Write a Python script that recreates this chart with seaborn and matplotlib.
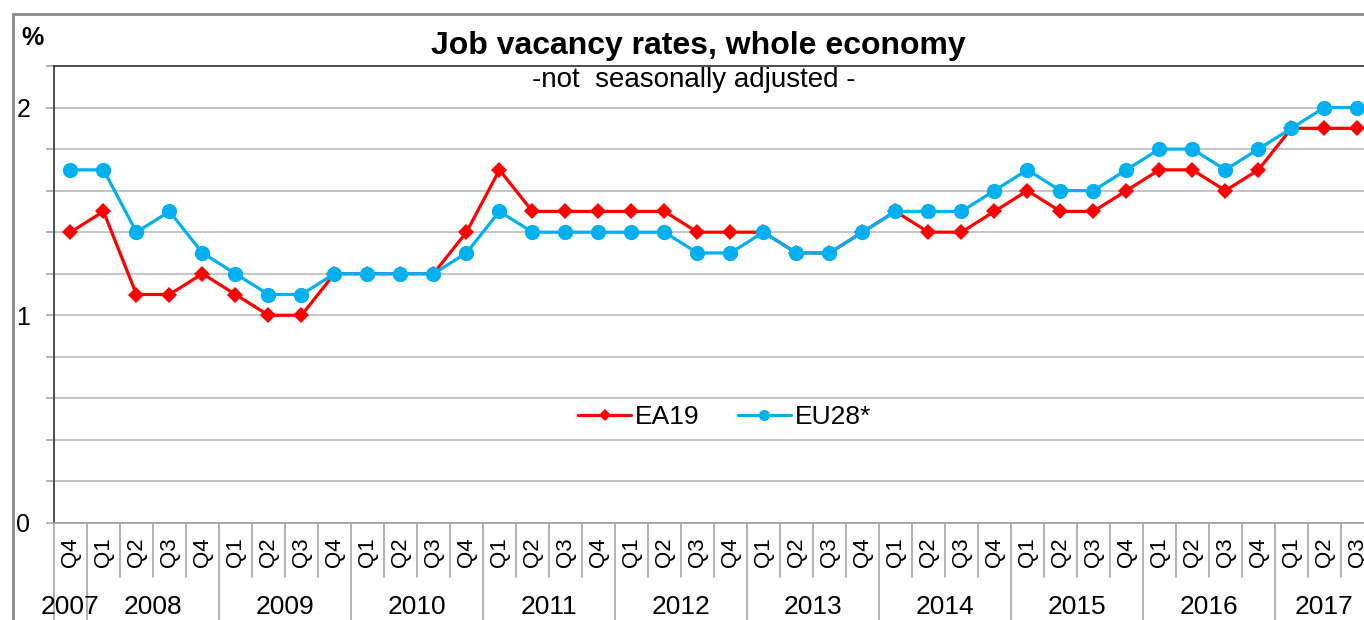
import numpy as np
import pandas as pd
import seaborn as sns
import matplotlib.pyplot as plt
from matplotlib.lines import Line2D

sns.set_style("white")
plt.rcParams["font.family"] = ["Liberation Sans", "DejaVu Sans"]
plt.rcParams["text.color"] = "black"
plt.rcParams["xtick.color"] = "black"
plt.rcParams["ytick.color"] = "black"

RED = "#FF0000"
BLUE = "#00B0F0"

QUARTERS = ["Q4"] + ["Q1", "Q2", "Q3", "Q4"] * 9 + ["Q1", "Q2", "Q3"]
YEARS = ["2007", "2008", "2009", "2010", "2011", "2012",
         "2013", "2014", "2015", "2016", "2017"]
YEAR_COUNTS = [1, 4, 4, 4, 4, 4, 4, 4, 4, 4, 3]

EA19 = [1.4,
        1.5, 1.1, 1.1, 1.2,
        1.1, 1.0, 1.0, 1.2,
        1.2, 1.2, 1.2, 1.4,
        1.7, 1.5, 1.5, 1.5,
        1.5, 1.5, 1.4, 1.4,
        1.4, 1.3, 1.3, 1.4,
        1.5, 1.4, 1.4, 1.5,
        1.6, 1.5, 1.5, 1.6,
        1.7, 1.7, 1.6, 1.7,
        1.9, 1.9, 1.9]
EU28 = [1.7,
        1.7, 1.4, 1.5, 1.3,
        1.2, 1.1, 1.1, 1.2,
        1.2, 1.2, 1.2, 1.3,
        1.5, 1.4, 1.4, 1.4,
        1.4, 1.4, 1.3, 1.3,
        1.4, 1.3, 1.3, 1.4,
        1.5, 1.5, 1.5, 1.6,
        1.7, 1.6, 1.6, 1.7,
        1.8, 1.8, 1.7, 1.8,
        1.9, 2.0, 2.0]

W, H = 1364, 620


def px_x(x):
    return x / W


def px_y(y):
    return 1 - y / H


def draw_series(ax, df):
    # EU28 is drawn last in the source, so it sits on top of EA19
    sns.lineplot(data=df, x="idx", y="EA19", ax=ax, color=RED, lw=2.3,
                 marker="D", markersize=8, markeredgewidth=0, legend=False)
    sns.lineplot(data=df, x="idx", y="EU28", ax=ax, color=BLUE, lw=2.3,
                 marker="o", markersize=11, markeredgewidth=0, legend=False)
    handles = [
        Line2D([0], [0], color=RED, lw=2.3, marker="D", ms=6, mew=0, label="EA19"),
        Line2D([0], [0], color=BLUE, lw=2.3, marker="o", ms=8, mew=0, label="EU28*"),
    ]
    ax.legend(handles=handles, ncol=2, frameon=False, loc="center",
              bbox_to_anchor=(0.512, 0.231), fontsize=19, handlelength=2.0,
              handletextpad=0.15, columnspacing=1.45)


def draw_xaxis(ax, n):
    tr = ax.get_xaxis_transform()
    ax_h = 523 - 66
    q_bottom = -(577 - 523) / ax_h
    y_bottom = -(625 - 523) / ax_h
    ax.set_xticks(range(n))
    ax.set_xticklabels(QUARTERS, rotation=90, fontsize=16)
    ax.tick_params(axis="x", length=0, pad=10)
    year_edges = np.cumsum(YEAR_COUNTS) - 0.5
    for i in range(n - 1):
        b = i + 0.5
        bottom = y_bottom if b in year_edges else q_bottom
        ax.plot([b, b], [0, bottom], transform=tr, color="#a6a6a6",
                lw=1.2, clip_on=False)
    ax.plot([-0.5, -0.5], [0, y_bottom], transform=tr, color="#a6a6a6",
            lw=1.2, clip_on=False)
    start = -0.5
    for year, cnt in zip(YEARS, YEAR_COUNTS):
        ax.text(start + cnt / 2, -(607 - 523) / ax_h, year, transform=tr,
                ha="center", va="center", fontsize=19)
        start += cnt


if __name__ == "__main__":
    n = len(QUARTERS)
    df = pd.DataFrame({"idx": np.arange(n), "EA19": EA19, "EU28": EU28})

    fig = plt.figure(figsize=(W / 100, H / 100), dpi=100)
    ax = fig.add_axes([px_x(54), px_y(523), px_x(1364 - 54), (523 - 66) / H])

    draw_series(ax, df)

    ax.set_xlim(-0.5, 39.2)
    ax.set_ylim(0, 2.2)
    yt = np.round(np.arange(0, 2.21, 0.2), 1)
    ax.set_yticks(yt)
    ax.set_yticklabels([str(int(v)) if abs(v - round(v)) < 1e-9 else "" for v in yt],
                       fontsize=18)
    ax.tick_params(axis="y", left=True, length=6, width=1.2, color="#a6a6a6",
                   pad=11)
    ax.grid(axis="y", color="#c0c0c0", lw=1.3)
    ax.set_axisbelow(True)
    ax.set_xlabel("")
    ax.set_ylabel("")

    for side in ["left", "top"]:
        ax.spines[side].set_color("#404040")
        ax.spines[side].set_linewidth(1.3)
    ax.spines["bottom"].set_color("#a6a6a6")
    ax.spines["bottom"].set_linewidth(1.3)
    ax.spines["right"].set_visible(False)

    draw_xaxis(ax, n)

    # outer chart frame
    fig.add_artist(Line2D([px_x(13), px_x(13)], [px_y(14), 0], color="#8c8c8c", lw=2))
    fig.add_artist(Line2D([px_x(13), 1], [px_y(14), px_y(14)], color="#8c8c8c", lw=2))

    fig.text(px_x(698), px_y(46), "Job vacancy rates, whole economy", ha="center",
             va="center", fontsize=23, fontweight="bold")
    fig.text(px_x(694), px_y(80), "-not  seasonally adjusted -", ha="center",
             va="center", fontsize=20)
    fig.text(px_x(33), px_y(38), "%", ha="center", va="center", fontsize=18,
             fontweight="bold")

    fig.savefig("out.png", dpi=100)
